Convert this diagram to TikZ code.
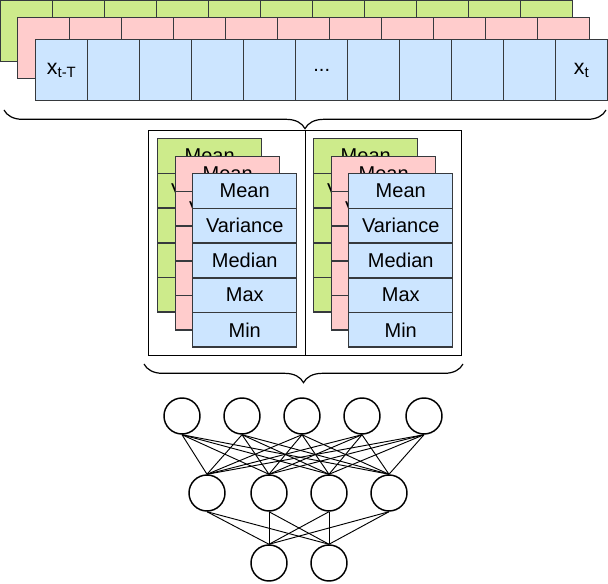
\documentclass[tikz,border=0pt]{standalone}
\usepackage{fontspec}
\setmainfont{Liberation Sans}
\usetikzlibrary{decorations.pathreplacing}
\definecolor{cgreen}{HTML}{CDEB8B}
\definecolor{cpink}{HTML}{FFCCCC}
\definecolor{cblue}{HTML}{CCE5FF}
\definecolor{cline}{HTML}{36393D}
\begin{document}
\begin{tikzpicture}[x=0.75pt,y=-0.75pt,
  cell/.style={draw=cline,line width=1.1pt,minimum width=52*0.75pt,minimum height=61*0.75pt,anchor=north west,inner sep=0pt,font=\fontsize{15}{17}\selectfont},
  stat/.style={draw=cline,line width=1.1pt,minimum width=104*0.75pt,minimum height=34.7*0.75pt,anchor=north west,inner sep=0pt,font=\fontsize{15}{17}\selectfont},
  neuron/.style={circle,draw=black,line width=1.1pt,minimum size=36*0.75pt,inner sep=0pt},
  brc/.style={draw,line width=0.9pt,decorate,decoration={brace,amplitude=14pt}},
  edge/.style={line width=0.7pt}]
\useasboundingbox (0,0) rectangle (608,584);
% time series layers
\foreach \c/\ox/\oy in {cgreen/0/0,cpink/17/17,cblue/35/39}
  \foreach \i in {0,...,10}
    \node[cell,fill=\c] (s-\c-\i) at (\ox+52*\i,\oy) {};
\node[font=\fontsize{16}{18}\selectfont] at (s-cblue-0.center) {x\textsubscript{t-T}};
\node[font=\fontsize{15}{17}\selectfont] at (s-cblue-5.center) {...};
\node[font=\fontsize{16}{18}\selectfont] at (s-cblue-10.center) {x\textsubscript{t}};
\draw[brc] (606,110) -- (4,110);
% statistics box
\node[draw,line width=0.9pt,minimum width=313*0.75pt,minimum height=225*0.75pt,anchor=north west,inner sep=0pt] (box) at (148,130) {};
\draw[line width=0.7pt] (box.north) -- (box.south);
\foreach \bx/\nm in {157/a,313/b}
  \foreach \c/\ox/\oy in {cgreen/0/0,cpink/18/18,cblue/35/35}
    \foreach \t [count=\k from 0] in {Mean,Variance,Median,Max,Min}
      \node[stat,fill=\c] (f-\nm-\c-\k) at (\bx+\ox,138+\oy+34.7*\k) {\t};
\draw[brc] (463,364) -- (144,364);
% network
\foreach \x [count=\i] in {182,242,302,362,424} \node[neuron] (a\i) at (\x,416) {};
\foreach \x [count=\i] in {207,269,329,389} \node[neuron] (b\i) at (\x,493) {};
\foreach \x [count=\i] in {269,329} \node[neuron] (c\i) at (\x,563) {};
\foreach \i in {1,...,5} \foreach \j in {1,...,4} \draw[edge] (a\i.south) -- (b\j.north);
\foreach \i in {1,...,4} \foreach \j in {1,2} \draw[edge] (b\i.south) -- (c\j.north);
\end{tikzpicture}
\end{document}
